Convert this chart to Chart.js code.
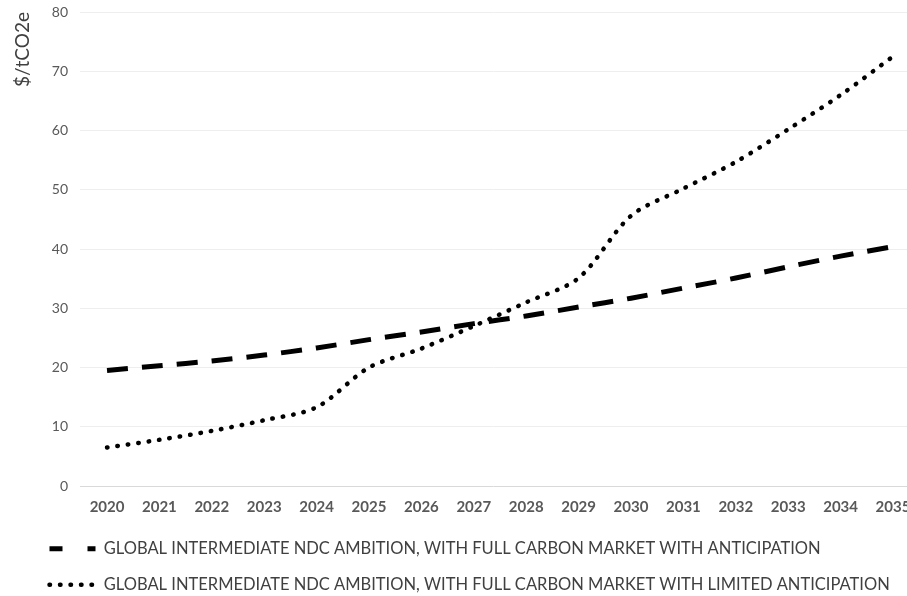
<!DOCTYPE html>
<html>
<head>
<meta charset="utf-8">
<script src="https://cdn.jsdelivr.net/npm/chart.js@4"></script>
<style>
  html, body { margin: 0; padding: 0; background: #fff; }
  #wrap { width: 907px; height: 596px; }
</style>
</head>
<body>
<div id="wrap"><canvas id="prices"></canvas></div>
<script>
const years = [2020, 2021, 2022, 2023, 2024, 2025, 2026, 2027, 2028, 2029, 2030, 2031, 2032, 2033, 2034, 2035];
const yTicks = [0, 10, 20, 30, 40, 50, 60, 70, 80];

// prezzi carbonio $/tCO2e
const fullAnticipation = [19.5, 20.3, 21.1, 22.1, 23.3, 24.7, 26.0, 27.4, 28.7, 30.2, 31.7, 33.4, 35.1, 37.0, 38.8, 40.4];
const limitedAnticipation = [6.5, 7.8, 9.3, 11.1, 13.3, 20.0, 23.2, 27.0, 31.0, 35.1, 45.6, 50.2, 54.7, 60.2, 66.0, 72.5];

const labelFull = 'GLOBAL INTERMEDIATE NDC AMBITION, WITH FULL CARBON MARKET WITH ANTICIPATION';
const labelLimited = 'GLOBAL INTERMEDIATE NDC AMBITION, WITH FULL CARBON MARKET WITH LIMITED ANTICIPATION';

Chart.defaults.font.family = 'Lato';

const toPoints = (vals) => vals.map((v, i) => ({ x: years[i], y: v }));

// sposto la legenda come nell'originale
const legendShift = {
  id: 'legendShift',
  afterLayout(chart) {
    chart.legend.left += 30;
    chart.legend.top -= 7;
  }
};

const noEdgePadding = (axis) => {
  axis.paddingLeft = 0;
  axis.paddingRight = 0;
  axis.paddingTop = 0;
  axis.paddingBottom = 0;
};

const ctx = document.getElementById('prices').getContext('2d');

new Chart(ctx, {
  type: 'line',
  data: {
    datasets: [
      {
        label: labelFull,
        data: toPoints(fullAnticipation),
        borderColor: '#000',
        backgroundColor: '#000',
        borderWidth: 5,
        borderDash: [21, 14],
        borderCapStyle: 'butt',
        legendDash: [13, 25],
        tension: 0.3,
        pointRadius: 0,
      },
      {
        label: labelLimited,
        data: toPoints(limitedAnticipation),
        borderColor: '#000',
        backgroundColor: '#000',
        borderWidth: 4.5,
        borderDash: [0.5, 10],
        borderCapStyle: 'round',
        legendDash: [0.5, 10],
        tension: 0.3,
        pointRadius: 0,
      }
    ]
  },
  options: {
    responsive: true,
    maintainAspectRatio: false,
    animation: false,
    layout: { padding: { top: 12, left: 0, right: 0, bottom: 0 } },
    scales: {
      x: {
        type: 'linear',
        min: 2019.485,
        max: 2035.267,
        grid: { display: false, drawTicks: false },
        border: { display: false },
        afterBuildTicks: (axis) => {
          axis.ticks = years.map(y => ({ value: y }));
        },
        afterFit: noEdgePadding,
        ticks: {
          padding: 12,
          color: '#595959',
          font: { size: 15, weight: 'bold' },
          maxRotation: 0,
          autoSkip: false,
          callback: (value) => String(value),
        }
      },
      y: {
        min: 0,
        max: 80,
        afterBuildTicks: (axis) => {
          axis.ticks = yTicks.map(v => ({ value: v }));
        },
        afterFit: noEdgePadding,
        grid: {
          drawTicks: false,
          color: (c) => c.tick && c.tick.value === 0 ? '#d9d9d9' : '#eeeeee',
          lineWidth: 1,
        },
        border: { display: false },
        ticks: {
          padding: 12,
          color: '#595959',
          font: { size: 14 },
        },
        title: {
          display: true,
          text: '$/tCO2e',
          align: 'end',
          color: '#404040',
          font: { size: 19 },
          padding: { top: 11, bottom: 6 },
        }
      }
    },
    plugins: {
      tooltip: { enabled: false },
      legend: {
        position: 'bottom',
        align: 'start',
        maxHeight: 68,
        labels: {
          color: '#404040',
          font: { size: 16.5 },
          padding: 19.5,
          usePointStyle: true,
          pointStyleWidth: 46,
          boxHeight: 6,
          generateLabels: (chart) => chart.data.datasets.map((ds, i) => ({
            text: ds.label,
            datasetIndex: i,
            fillStyle: ds.borderColor,
            strokeStyle: ds.borderColor,
            lineWidth: ds.borderWidth,
            lineDash: ds.legendDash,
            lineCap: ds.borderCapStyle,
            pointStyle: 'line',
            fontColor: '#404040',
            hidden: false,
          })),
        }
      }
    }
  },
  plugins: [legendShift],
});
</script>
</body>
</html>
